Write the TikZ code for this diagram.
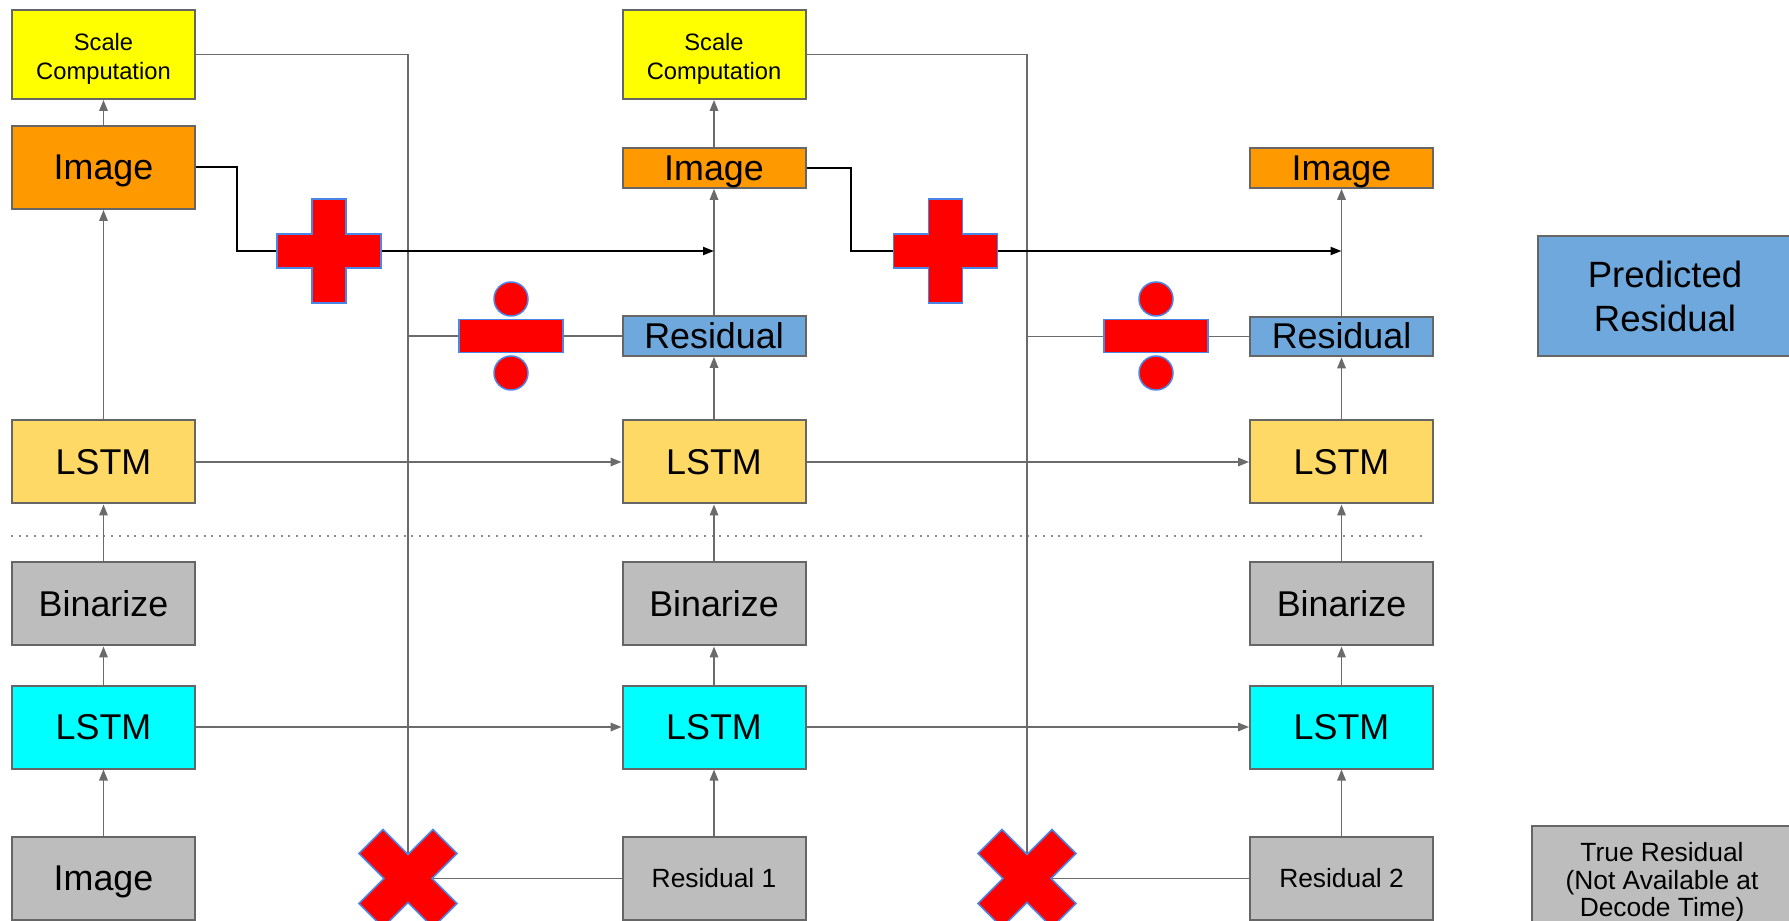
\documentclass[tikz,border=0pt]{standalone}
\usepackage{fontspec}
\setmainfont{Liberation Sans}
\usetikzlibrary{arrows.meta}

\definecolor{framegray}{HTML}{666666}
\definecolor{linegray}{HTML}{6B6B6B}
\definecolor{dotgray}{HTML}{8C8C8C}
\definecolor{scaleyellow}{HTML}{FFFF00}
\definecolor{imgorange}{HTML}{FF9900}
\definecolor{lstmyellow}{HTML}{FFD966}
\definecolor{bingray}{HTML}{BDBDBD}
\definecolor{lstmcyan}{HTML}{00FFFF}
\definecolor{residblue}{HTML}{6FA8DC}
\definecolor{opred}{HTML}{FF0000}
\definecolor{opedge}{HTML}{4A86E8}

\newcommand{\mainlabel}{\fontsize{10.2pt}{12.4pt}\selectfont}
\newcommand{\keylabel}{\fontsize{10.4pt}{12.5pt}\selectfont}
\newcommand{\sublabel}{\fontsize{7.5pt}{7.8pt}\selectfont}
\newcommand{\tinylabel}{\fontsize{6.75pt}{8.4pt}\selectfont}

\begin{document}
\begin{tikzpicture}[
  x=0.1mm, y=-0.1mm,
  box/.style={rectangle, draw=framegray, line width=0.2mm, minimum width=18.3mm,
    inner sep=0pt, align=center, text=black, font=\mainlabel},
  tallbox/.style={box, minimum height=8.3mm},
  flatbox/.style={box, minimum height=3.9mm},
  oneline/.style={text height=9.2pt, text depth=2.1pt},
  scalebox/.style={tallbox, fill=scaleyellow, minimum height=8.9mm,
    font=\tinylabel, text height=15.9pt, text depth=1.4pt},
  arr/.style={-{Triangle[length=1.1mm, width=0.85mm]}, line width=0.17mm, color=linegray},
  link/.style={line width=0.17mm, color=linegray},
  sumarr/.style={-{Triangle[length=1.1mm, width=0.8mm]}, line width=0.2mm, color=black},
  sep/.style={line width=0.2mm, color=dotgray, dash pattern=on 0.2mm off 0.57mm},
  opshape/.style={fill=opred, draw=opedge, line width=0.15mm},
  addsign/.pic={
    \path[opshape] (-17,-52) -- (17,-52) -- (17,-17) -- (52,-17) -- (52,17)
      -- (17,17) -- (17,52) -- (-17,52) -- (-17,17) -- (-52,17) -- (-52,-17)
      -- (-17,-17) -- cycle;
  },
  divsign/.pic={
    \path[opshape] (-52,-16.5) rectangle (52,16.5);
    \path[opshape] (0,-37) circle[radius=1.7mm];
    \path[opshape] (0,37) circle[radius=1.7mm];
  },
  mulsign/.pic={
    \path[opshape] (0,-24) -- (25,-49) -- (49,-25) -- (24,0) -- (49,25)
      -- (25,49) -- (0,24) -- (-25,49) -- (-49,25) -- (-24,0) -- (-49,-25)
      -- (-25,-49) -- cycle;
  }
]
  \useasboundingbox (0,0) rectangle (1789,921);

  % encoder / decoder split
  \draw[sep] (11,536) -- (1424,536);

  % rows shared by the three iterations
  \foreach \c/\x in {1/103.5, 2/714, 3/1341.5} {
    \node[tallbox, oneline, fill=lstmyellow] (dec\c) at (\x,462) {LSTM};
    \node[tallbox, oneline, fill=bingray] (bin\c) at (\x,604) {Binarize};
    \node[tallbox, oneline, fill=lstmcyan] (enc\c) at (\x,727) {LSTM};
  }

  % first iteration
  \node[scalebox] (scale1) at (103.5,54.5) {Scale\\Computation};
  \node[tallbox, oneline, fill=imgorange] (img1) at (103.5,167.5) {Image};
  \node[tallbox, oneline, fill=bingray] (in1) at (103.5,878.5) {Image};

  % second iteration
  \node[scalebox] (scale2) at (714,54.5) {Scale\\Computation};
  \node[flatbox, oneline, fill=imgorange] (img2) at (714,168) {Image};
  \node[flatbox, oneline, fill=residblue] (res2) at (714,336) {Residual};
  \node[tallbox, fill=bingray, font=\sublabel] (tru1) at (714,878.5) {Residual 1};

  % third iteration
  \node[flatbox, oneline, fill=imgorange] (img3) at (1341.5,168) {Image};
  \node[flatbox, oneline, fill=residblue] (res3) at (1341.5,336.5) {Residual};
  \node[tallbox, fill=bingray, font=\sublabel] (tru2) at (1341.5,878.5) {Residual 2};

  % key
  \node[box, fill=residblue, minimum width=25.4mm, minimum height=12mm, font=\keylabel] (keypred) at (1665,296.5) {Predicted\\Residual};
  \node[box, fill=bingray, minimum width=26mm, minimum height=11.4mm, font=\sublabel] (keytrue) at (1662,882.5) {True Residual\\(Not Available at\\Decode Time)};

  % operator positions
  \coordinate (plus1) at (329,251);
  \coordinate (plus2) at (945.5,251);
  \coordinate (div1) at (511,336);
  \coordinate (div2) at (1156,336);
  \coordinate (cross1) at (408,878.5);
  \coordinate (cross2) at (1027,878.5);
  \coordinate (sum1) at (img2 |- plus1);
  \coordinate (sum2) at (img3 |- plus2);

  \foreach \f/\t in {in1/enc1, enc1/bin1, bin1/dec1, dec1/img1, img1/scale1,
                      tru1/enc2, enc2/bin2, bin2/dec2, dec2/res2, res2/img2, img2/scale2,
                      tru2/enc3, enc3/bin3, bin3/dec3, dec3/res3, res3/img3,
                      dec1/dec2, dec2/dec3, enc1/enc2, enc2/enc3} {
    \draw[arr] (\f) -- (\t);
  }

  % scale feeds the residual division
  \draw[link] (scale1.east) -| (cross1);
  \draw[link] (scale2.east) -| (cross2);
  \draw[link] (res2.west) -- (res2.west -| cross1);
  \draw[link] (res3.west) -- (res3.west -| cross2);
  \draw[link] (tru1.west) -- (cross1);
  \draw[link] (tru2.west) -- (cross2);

  % image plus rescaled residual
  \draw[sumarr] (img1.east) -- ++(41,0) |- (sum1);
  \draw[sumarr] (img2.east) -- ++(44,0) |- (sum2);

  \pic at (plus1) {addsign};
  \pic at (plus2) {addsign};
  \pic at (div1) {divsign};
  \pic at (div2) {divsign};
  \pic at (cross1) {mulsign};
  \pic at (cross2) {mulsign};
\end{tikzpicture}
\end{document}
